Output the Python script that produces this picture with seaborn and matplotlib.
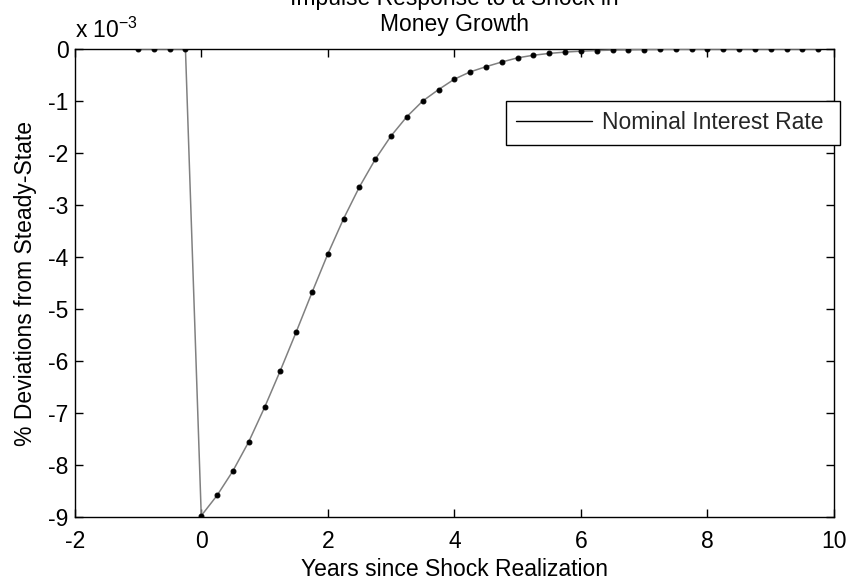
import numpy as np
import pandas as pd
import matplotlib
matplotlib.use("Agg")
import matplotlib.pyplot as plt
from matplotlib.lines import Line2D
import seaborn as sns

# ---- data (values in units of 10^-3) ----
years = [-1.0, -0.75, -0.5, -0.25,
         0.0, 0.25, 0.5, 0.75, 1.0, 1.25, 1.5, 1.75,
         2.0, 2.25, 2.5, 2.75, 3.0, 3.25, 3.5, 3.75,
         4.0, 4.25, 4.5, 4.75, 5.0, 5.25, 5.5, 5.75,
         6.0, 6.25, 6.5, 6.75, 7.0, 7.25, 7.5, 7.75,
         8.0, 8.25, 8.5, 8.75, 9.0, 9.25, 9.5, 9.75]
nominal_rate_e3 = [0.0, 0.0, 0.0, 0.0,
                   -8.97, -8.58, -8.11, -7.55, -6.89, -6.18, -5.44, -4.68,
                   -3.94, -3.26, -2.65, -2.12, -1.67, -1.30, -1.00, -0.78,
                   -0.58, -0.44, -0.34, -0.25, -0.17, -0.12, -0.085, -0.06,
                   -0.042, -0.03, -0.021, -0.015, -0.010, -0.007, -0.005, -0.0035,
                   -0.0025, -0.0017, -0.0012, -0.0008, -0.0006, -0.0004, -0.0003, -0.0002]
x_ticks = [-2, 0, 2, 4, 6, 8, 10]
y_ticks = [0, -1, -2, -3, -4, -5, -6, -7, -8, -9]
title_text = "Impulse Response to a Shock in\nMoney Growth"
x_label = "Years since Shock Realization"
y_label = "% Deviations from Steady-State"
legend_label = "Nominal Interest Rate"
multiplier_text = r"x 10$^{-3}$"

df = pd.DataFrame({"years": years, "value": nominal_rate_e3})

sns.set_theme(style="white")
plt.rcParams["font.family"] = ["Liberation Sans", "DejaVu Sans"]
plt.rcParams["mathtext.fontset"] = "custom"
plt.rcParams["mathtext.rm"] = "Liberation Sans"
plt.rcParams["mathtext.it"] = "Liberation Sans"
plt.rcParams["mathtext.default"] = "regular"
plt.rcParams["axes.unicode_minus"] = False

FS = 16.5

fig = plt.figure(figsize=(8.48, 5.79), dpi=100)
ax = fig.add_axes([0.0881, 0.1066, 0.8954, 0.8088])

sns.lineplot(data=df, x="years", y="value", ax=ax, color="0.5", linewidth=1.1,
             marker="o", markersize=3.5, markerfacecolor="black",
             markeredgecolor="black", legend=False, zorder=3)

ax.set_xlim(-2, 10)
ax.set_ylim(-9, 0)
ax.set_xticks(x_ticks)
ax.set_xticklabels([str(t) for t in x_ticks])
ax.set_yticks(y_ticks)
ax.set_yticklabels([str(t) for t in y_ticks])

for s in ax.spines.values():
    s.set_visible(True)
    s.set_color("black")
    s.set_linewidth(1.0)

ax.tick_params(axis="both", which="both", direction="in", length=6, width=1.0,
               color="black", labelsize=FS, labelcolor="black",
               top=True, right=True, bottom=True, left=True)
ax.tick_params(axis="x", pad=9.5)
ax.tick_params(axis="y", pad=4.5)

ax.set_xlabel(x_label, fontsize=FS, color="black", labelpad=3)
ax.set_ylabel(y_label, fontsize=FS, color="black", labelpad=8)
ax.set_title(title_text, fontsize=FS, color="black", pad=13, linespacing=1.15)

ax.text(0.0, 1.024, multiplier_text, transform=ax.transAxes, ha="left",
        va="baseline", fontsize=FS, color="black")

handle = Line2D([], [], color="black", linewidth=1.0)
leg = ax.legend([handle], [legend_label], loc="upper left",
                bbox_to_anchor=(0.5676, 0.795, 0.4403, 0.094), mode="expand",
                borderaxespad=0, fontsize=FS, frameon=True, fancybox=False,
                framealpha=1, edgecolor="black", handlelength=3.3,
                handletextpad=0.45, borderpad=0.45, handleheight=0.7)
leg.get_frame().set_linewidth(1.0)
leg.set_zorder(5)

fig.savefig("out.png", dpi=100, facecolor="white")
